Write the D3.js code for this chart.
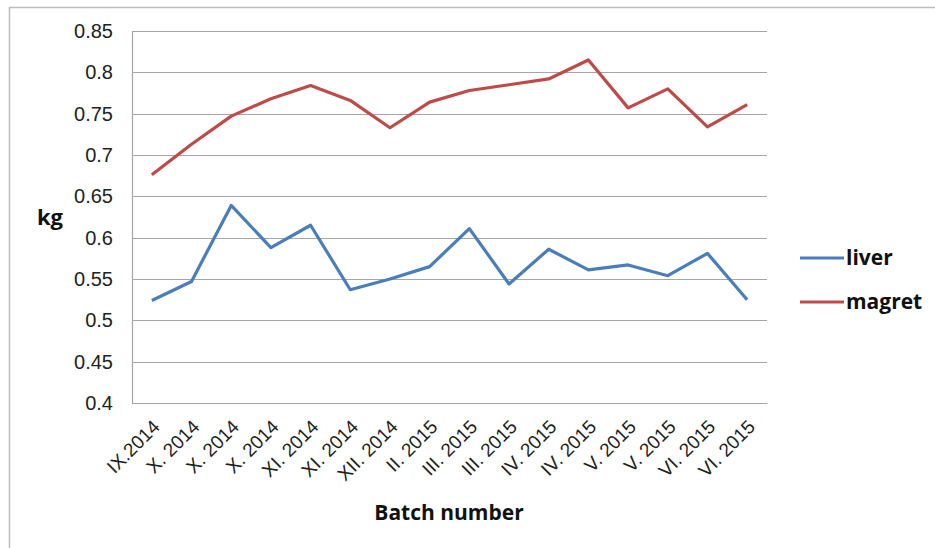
<!DOCTYPE html>
<html>
<head>
<meta charset="utf-8">
<script src="https://cdn.jsdelivr.net/npm/d3@7"></script>
<style>
  body { margin: 0; background: #fff; }
  svg { display: block; font-family: "Open Sans", "Liberation Sans", sans-serif; }
</style>
</head>
<body>
<div id="chart"></div>
<script>
// batch labels along the x axis
const batches = ['IX.2014', 'X. 2014', 'X. 2014', 'X. 2014', 'XI. 2014', 'XI. 2014', 'XII. 2014', 'II. 2015',
  'III. 2015', 'III. 2015', 'IV. 2015', 'IV. 2015', 'V. 2015', 'V. 2015', 'VI. 2015', 'VI. 2015']

// weights in kg
const liver = [0.524, 0.547, 0.639, 0.588, 0.615, 0.537, 0.550, 0.565, 0.611, 0.544, 0.586, 0.561, 0.567, 0.554, 0.581, 0.525]
const magret = [0.676, 0.713, 0.747, 0.768, 0.784, 0.766, 0.733, 0.764, 0.778, 0.785, 0.792, 0.815, 0.757, 0.780, 0.734, 0.761]

const yTicks = [0.4, 0.45, 0.5, 0.55, 0.6, 0.65, 0.7, 0.75, 0.8, 0.85]

const series = [
  { name: 'liver', values: liver, color: '#4a7ebb' },
  { name: 'magret', values: magret, color: '#be4b48' }
]

const width = 935, height = 548
const margin = { top: 31, right: 168, bottom: 145, left: 132 }

const svg = d3.select('#chart').append('svg')
  .attr('width', width)
  .attr('height', height)

// outer chart frame (runs off the right and bottom edges)
svg.append('rect')
  .attr('x', 9.5).attr('y', 7.5)
  .attr('width', width).attr('height', height)
  .attr('fill', 'none')
  .attr('stroke', '#bdbdbd')
  .attr('stroke-width', 1.5)

const x = d3.scaleBand()
  .domain(d3.range(batches.length))
  .range([margin.left, width - margin.right])

const y = d3.scaleLinear()
  .domain([0.4, 0.85])
  .range([height - margin.bottom, margin.top])

// gridlines
svg.append('g')
  .selectAll('line')
  .data(yTicks)
  .join('line')
  .attr('x1', margin.left)
  .attr('x2', width - margin.right)
  .attr('y1', d => Math.round(y(d)) + 0.5)
  .attr('y2', d => Math.round(y(d)) + 0.5)
  .attr('stroke', '#a6a6a6')
  .attr('stroke-width', 1.2)

// y axis
const yAxis = svg.append('g')
  .attr('transform', `translate(${margin.left},0)`)
  .call(d3.axisLeft(y).tickValues(yTicks).tickSize(0).tickPadding(19).tickFormat(d => String(+d.toFixed(2))))
yAxis.select('.domain').attr('stroke', '#a6a6a6').attr('stroke-width', 1.2)
yAxis.selectAll('text')
  .attr('font-size', 20)
  .attr('fill', '#222')

// x axis
const xAxis = svg.append('g')
  .attr('transform', `translate(0,${height - margin.bottom})`)
  .call(d3.axisBottom(x).tickSize(0).tickFormat(i => batches[i]))
xAxis.select('.domain').attr('stroke', '#a6a6a6').attr('stroke-width', 1.2)
xAxis.selectAll('text')
  .attr('font-size', 19)
  .attr('fill', '#222')
  .attr('text-anchor', 'end')
  .attr('dy', 0)
  .attr('transform', 'translate(7,23) rotate(-45)')

// series lines
const line = d3.line()
  .x((d, i) => x(i) + x.bandwidth() / 2)
  .y(d => y(d))

svg.append('g')
  .selectAll('path')
  .data(series)
  .join('path')
  .attr('d', d => line(d.values))
  .attr('fill', 'none')
  .attr('stroke', d => d.color)
  .attr('stroke-width', 3.2)
  .attr('stroke-linejoin', 'round')

// axis titles
svg.append('text')
  .attr('x', 50).attr('y', 225)
  .attr('text-anchor', 'middle')
  .attr('font-size', 22)
  .attr('font-weight', 'bold')
  .attr('fill', '#111')
  .text('kg')

svg.append('text')
  .attr('x', 449).attr('y', 520)
  .attr('text-anchor', 'middle')
  .attr('font-size', 21)
  .attr('font-weight', 'bold')
  .attr('fill', '#111')
  .text('Batch number')

// legend
const legend = svg.append('g')
  .selectAll('g')
  .data(series)
  .join('g')
  .attr('transform', (d, i) => `translate(800,${258 + i * 44})`)

legend.append('line')
  .attr('x1', 0).attr('x2', 44)
  .attr('stroke', d => d.color)
  .attr('stroke-width', 3.2)

legend.append('text')
  .attr('x', 46).attr('y', 7)
  .attr('font-size', 21)
  .attr('font-weight', 'bold')
  .attr('fill', '#111')
  .text(d => d.name)
</script>
</body>
</html>
